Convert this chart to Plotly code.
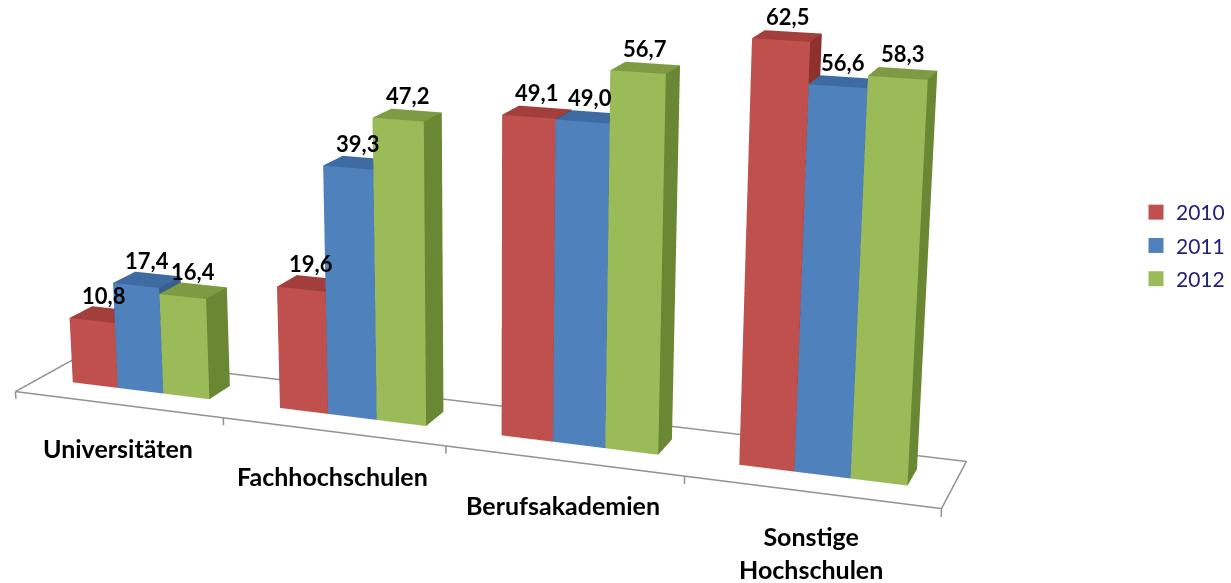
import math
import plotly.graph_objects as go

# ---- data -------------------------------------------------------------
categories = ["Universitäten", "Fachhochschulen", "Berufsakademien", "Sonstige<br>Hochschulen"]
years = ["2010", "2011", "2012"]
values_2010 = [10.8, 19.6, 49.1, 62.5]
values_2011 = [17.4, 39.3, 49.0, 56.6]
values_2012 = [16.4, 47.2, 56.7, 58.3]
series_values = [values_2010, values_2011, values_2012]

# ---- style ------------------------------------------------------------
front_colors = ["#C0504D", "#4F81BD", "#9BBB59"]
top_colors = ["#A23E3B", "#3E6BA2", "#7E9B43"]
side_colors = ["#8E302D", "#375E8D", "#6A8734"]
FLOOR_COLOR = "#929292"
LEGEND_TEXT = "#22227A"
FONT = "Lato"

# 3-D column geometry in category units (gap width 150 %)
BAR_W = 1 / 4.5
GAP = 1.5 * BAR_W
BAR_D = 0.195
FLOOR_FRONT = -0.2
FLOOR_BACK = 0.352
Z_PER_UNIT = 0.0272          # one value unit expressed in category units

X_RANGE = [-0.05, 4.05]
Y_RANGE = [-0.25, 0.40]
Z_RANGE = [-2.0, 70.0]
NORM = 0.25                  # category units -> scene units

# perspective camera (category units)
YAW = math.radians(20.5)
PITCH = math.radians(15.5)
EYE = (5.333, -8.605, 3.213)
LOOK_DIST = 9.5
FOCAL_PX = 2370
FOVY = math.pi / 4
VIEW_CENTER_Y = 277          # where the optical axis meets the window

FIG_W = 1231
FIG_H = int(round(2 * FOCAL_PX * math.tan(FOVY / 2)))
SCENE_W = 980
SHIFT = int(round(FIG_H / 2 - VIEW_CENTER_Y))


def fmt(v):
    return f"{v:.1f}".replace(".", ",")


def to_scene(p):
    mid = ((X_RANGE[0] + X_RANGE[1]) / 2,
           (Y_RANGE[0] + Y_RANGE[1]) / 2,
           (Z_RANGE[0] + Z_RANGE[1]) / 2 * Z_PER_UNIT)
    return dict(x=(p[0] - mid[0]) * NORM, y=(p[1] - mid[1]) * NORM, z=(p[2] - mid[2]) * NORM)


view_dir = (-math.sin(YAW) * math.cos(PITCH), math.cos(YAW) * math.cos(PITCH), -math.sin(PITCH))
look_at = tuple(e + LOOK_DIST * d for e, d in zip(EYE, view_dir))

fig = go.Figure()

# ---- columns ----------------------------------------------------------
for j, vals in enumerate(series_values):
    xs, ys, zs, ii, jj, kk, fc = [], [], [], [], [], [], []
    for i, v in enumerate(vals):
        x0 = i + GAP / 2 + j * BAR_W
        x1 = x0 + BAR_W
        y0, y1 = 0.0, BAR_D
        b = len(xs)
        for (x, y, z) in [(x0, y0, 0), (x1, y0, 0), (x1, y1, 0), (x0, y1, 0),
                          (x0, y0, v), (x1, y0, v), (x1, y1, v), (x0, y1, v)]:
            xs.append(x); ys.append(y); zs.append(z)
        faces = [
            ((0, 1, 5), front_colors[j]), ((0, 5, 4), front_colors[j]),
            ((4, 5, 6), top_colors[j]), ((4, 6, 7), top_colors[j]),
            ((1, 2, 6), side_colors[j]), ((1, 6, 5), side_colors[j]),
            ((0, 3, 7), side_colors[j]), ((0, 7, 4), side_colors[j]),
            ((3, 2, 6), side_colors[j]), ((3, 6, 7), side_colors[j]),
            ((0, 1, 2), side_colors[j]), ((0, 2, 3), side_colors[j]),
        ]
        for (a, c, d), col in faces:
            ii.append(b + a); jj.append(b + c); kk.append(b + d); fc.append(col)
    fig.add_trace(go.Mesh3d(
        x=xs, y=ys, z=zs, i=ii, j=jj, k=kk, facecolor=fc, flatshading=True,
        lighting=dict(ambient=1.0, diffuse=0.0, specular=0.0, roughness=1.0, fresnel=0.0),
        hoverinfo="skip", showlegend=False, showscale=False,
    ))

# ---- floor outline and category tick marks ----------------------------
n_cat = len(categories)
fig.add_trace(go.Scatter3d(
    x=[0, n_cat, n_cat, 0, 0],
    y=[FLOOR_FRONT, FLOOR_FRONT, FLOOR_BACK, FLOOR_BACK, FLOOR_FRONT],
    z=[0, 0, 0, 0, 0],
    mode="lines", line=dict(color=FLOOR_COLOR, width=3),
    hoverinfo="skip", showlegend=False,
))
tx, ty, tz = [], [], []
for t in range(n_cat + 1):
    tx += [t, t, None]; ty += [FLOOR_FRONT, FLOOR_FRONT, None]; tz += [0, -1.2, None]
fig.add_trace(go.Scatter3d(
    x=tx, y=ty, z=tz, mode="lines", line=dict(color=FLOOR_COLOR, width=3),
    hoverinfo="skip", showlegend=False,
))

# ---- legend entries ---------------------------------------------------
for j, name in enumerate(years):
    fig.add_trace(go.Scatter3d(
        x=[None], y=[None], z=[None], mode="markers", name=name, legendgroup=name,
        marker=dict(symbol="square", size=15, color=front_colors[j]),
    ))

# ---- labels -----------------------------------------------------------
annotations = []
for j, vals in enumerate(series_values):
    for i, v in enumerate(vals):
        xc = i + GAP / 2 + (j + 0.5) * BAR_W
        annotations.append(dict(
            x=xc, y=BAR_D / 2, z=v, text=f"<b>{fmt(v)}</b>", showarrow=False,
            xanchor="center", yanchor="bottom", yshift=4,
            font=dict(family=FONT, size=22, color="black"),
        ))
for i, cat in enumerate(categories):
    annotations.append(dict(
        x=i + 0.5, y=FLOOR_FRONT, z=0, text=f"<b>{cat}</b>", showarrow=False,
        xanchor="center", yanchor="top", yshift=-27,
        font=dict(family=FONT, size=25, color="black"),
    ))

axis_off = dict(visible=False, showgrid=False, zeroline=False, showbackground=False)
fig.update_layout(
    width=FIG_W, height=FIG_H,
    margin=dict(l=0, r=0, t=0, b=0),
    paper_bgcolor="white", plot_bgcolor="white",
    hovermode=False,
    scene=dict(
        domain=dict(x=[0, SCENE_W / FIG_W], y=[0, 1]),
        xaxis=dict(range=X_RANGE, **axis_off),
        yaxis=dict(range=Y_RANGE, **axis_off),
        zaxis=dict(range=Z_RANGE, **axis_off),
        aspectmode="manual",
        aspectratio=dict(
            x=(X_RANGE[1] - X_RANGE[0]) * NORM,
            y=(Y_RANGE[1] - Y_RANGE[0]) * NORM,
            z=(Z_RANGE[1] - Z_RANGE[0]) * Z_PER_UNIT * NORM,
        ),
        camera=dict(eye=to_scene(EYE), center=to_scene(look_at), up=dict(x=0, y=0, z=1),
                    projection=dict(type="perspective")),
        bgcolor="white",
        dragmode=False,
        annotations=annotations,
    ),
    legend=dict(
        x=1136 / FIG_W, y=1 - (SHIFT + 192) / FIG_H, xanchor="left", yanchor="top",
        font=dict(family=FONT, size=21, color=LEGEND_TEXT),
        tracegroupgap=3, bgcolor="rgba(0,0,0,0)",
    ),
)

post = (
    "var gd=document.getElementById('{plot_id}');"
    f"gd.style.marginTop='-{SHIFT}px';"
    "document.documentElement.style.overflow='hidden';"
    "document.body.style.overflow='hidden';document.body.style.margin='0';"
)
fig.write_html("out.html", post_script=post)
